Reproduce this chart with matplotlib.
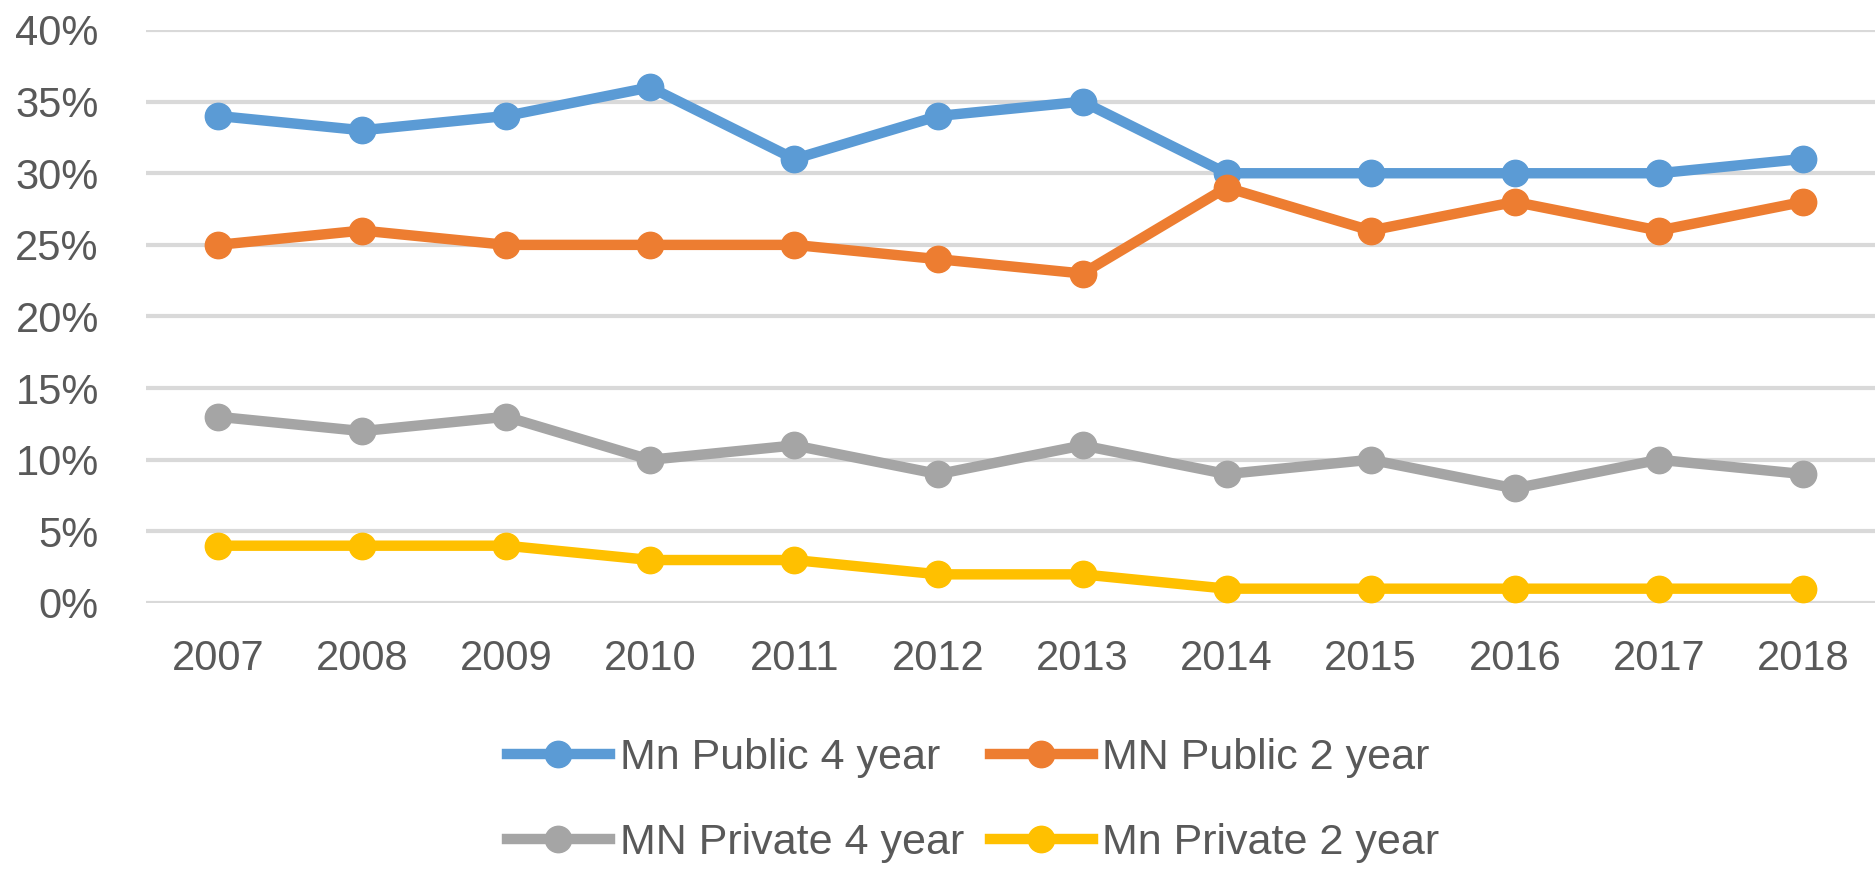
import matplotlib.pyplot as plt
from matplotlib.ticker import PercentFormatter

plt.rcParams['font.family'] = ['Liberation Sans', 'DejaVu Sans']

years = ['2007', '2008', '2009', '2010', '2011', '2012',
         '2013', '2014', '2015', '2016', '2017', '2018']
mn_public_4 = [34, 33, 34, 36, 31, 34, 35, 30, 30, 30, 30, 31]
mn_public_2 = [25, 26, 25, 25, 25, 24, 23, 29, 26, 28, 26, 28]
mn_private_4 = [13, 12, 13, 10, 11, 9, 11, 9, 10, 8, 10, 9]
mn_private_2 = [4, 4, 4, 3, 3, 2, 2, 1, 1, 1, 1, 1]

series = [
    ('Mn Public 4 year', mn_public_4, '#5B9BD5'),
    ('MN Public 2 year', mn_public_2, '#ED7D31'),
    ('MN Private 4 year', mn_private_4, '#A5A5A5'),
    ('Mn Private 2 year', mn_private_2, '#FFC000'),
]

text_color = '#595959'
fig = plt.figure(figsize=(18.75, 8.69), dpi=100)
ax = fig.add_axes([146 / 1875, 266 / 869, 1 - 146 / 1875, (603 - 30) / 869])

x = range(len(years))
handles = []
for label, vals, color in series:
    h, = ax.plot(x, [v / 100 for v in vals], color=color, lw=7.5, marker='o',
                 markersize=19, label=label, solid_joinstyle='round')
    handles.append(h)

ax.set_xlim(-0.5, len(years) - 0.5)
ax.set_ylim(0, 0.40)
ax.set_yticks([i * 0.05 for i in range(9)])
ax.yaxis.set_major_formatter(PercentFormatter(1.0, decimals=0))
ax.set_xticks(list(x))
ax.set_xticklabels(years)

ax.grid(axis='y', color='#D9D9D9', lw=3)
ax.set_axisbelow(True)
for s in ax.spines.values():
    s.set_visible(False)
ax.tick_params(axis='both', length=0, labelsize=30, labelcolor=text_color)
ax.tick_params(axis='x', pad=26)
ax.tick_params(axis='y', pad=34)

# legend reads row-wise: public on top, private below
order = [0, 2, 1, 3]
leg = fig.legend([handles[i] for i in order], [series[i][0] for i in order],
                 loc='center', bbox_to_anchor=(0.519, 0.079), ncol=2,
                 frameon=False, fontsize=31, handlelength=2.4,
                 handletextpad=0.22, columnspacing=0.6, labelspacing=1.05)
for t in leg.get_texts():
    t.set_color(text_color)

plt.savefig('out.png', dpi=100)
